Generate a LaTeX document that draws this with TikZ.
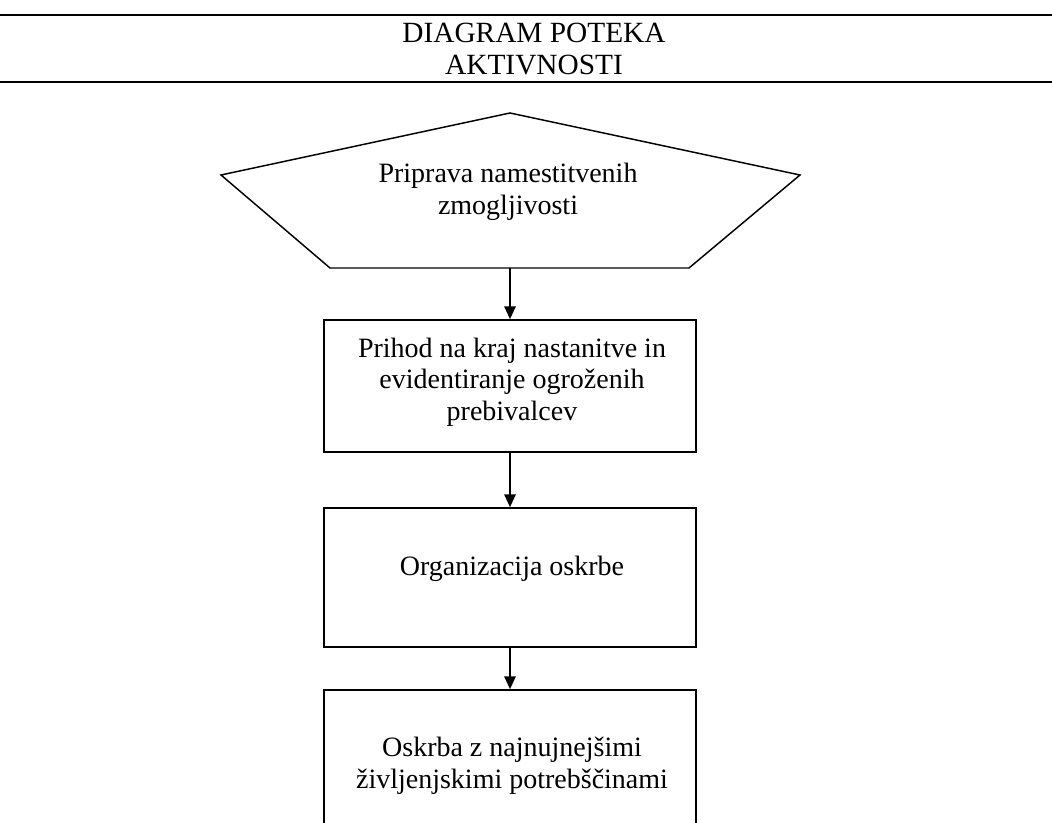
\documentclass[tikz,border=0pt]{standalone}
\usepackage{fontspec}
\setmainfont{Liberation Serif}
\usetikzlibrary{arrows.meta}
\begin{document}
\begin{tikzpicture}[x=0.75pt,y=-0.75pt,
  txt/.style={font=\fontsize{21}{23.8}\selectfont, align=center, inner sep=0pt},
  boxnode/.style={draw, line width=1.3pt, minimum width=279pt, inner sep=0pt},
  arr/.style={line width=1.2pt, -{Triangle[length=9.5pt,width=8.5pt]}},
  rule/.style={line width=1.8pt}]
\path[use as bounding box] (0,0) rectangle (1052,823);
\clip (0,0) rectangle (1052,823);
% header
\draw[rule] (0,15) -- (1052,15);
\draw[rule] (0,82) -- (1052,82);
\node[txt, font=\fontsize{22}{23.8}\selectfont] (hd) at (534,49) {DIAGRAM POTEKA\\AKTIVNOSTI};
% pentagon
\draw[line width=1.1pt, line join=miter] (510,113) -- (800,175) -- (689,268) -- (330,268) -- (221,175) -- cycle;
\coordinate (pb) at (510,268);
\node[txt] (t0) at (508,192) {Priprava namestitvenih\\zmogljivosti};
% boxes
\node[boxnode, minimum height=99pt] (b1) at (510,386) {};
\node[boxnode, minimum height=104.25pt] (b2) at (510,577.5) {};
\node[boxnode, minimum height=127.5pt] (b3) at (510,775) {};
\node[txt] (t1) at (512,382) {Prihod na kraj nastanitve in\\evidentiranje ogroženih\\prebivalcev};
\node[txt] (t2) at (512,569) {Organizacija oskrbe};
\node[txt] (t3) at (512,766) {Oskrba z najnujnejšimi\\življenjskimi potrebščinami};
% arrows
\draw[arr] (pb) -- (b1.north);
\draw[arr] (b1.south) -- (b2.north);
\draw[arr] (b2.south) -- (b3.north);
\end{tikzpicture}
\end{document}
